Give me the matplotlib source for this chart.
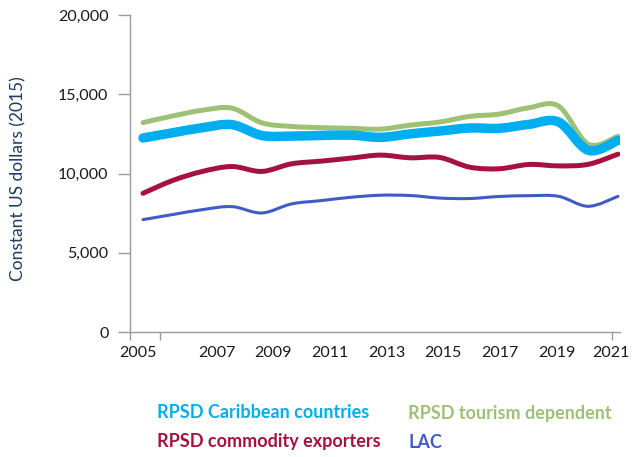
import numpy as np
import matplotlib
matplotlib.use("Agg")
import matplotlib.pyplot as plt
from matplotlib.path import Path
from matplotlib.patches import PathPatch

# GDP per capita, constant 2015 US dollars
years = np.arange(2005, 2022)
caribbean = [12240, 12570, 12890, 13080, 12400, 12360, 12400, 12420, 12280,
             12500, 12680, 12870, 12850, 13100, 13250, 11460, 12090]
commodity = [8750, 9560, 10130, 10440, 10130, 10610, 10780, 10970, 11160,
             10990, 11010, 10400, 10300, 10570, 10480, 10580, 11220]
tourism = [13210, 13630, 13990, 14120, 13200, 12970, 12890, 12850, 12800,
           13050, 13250, 13600, 13750, 14150, 14250, 11850, 12350]
lac = [7090, 7410, 7720, 7910, 7510, 8080, 8290, 8500, 8630,
       8610, 8450, 8420, 8550, 8600, 8560, 7930, 8560]

series_names = ["RPSD Caribbean countries", "RPSD commodity exporters",
                "RPSD tourism dependent", "LAC"]
colors = {"RPSD Caribbean countries": "#00aeef",
          "RPSD commodity exporters": "#a6123f",
          "RPSD tourism dependent": "#9fc176",
          "LAC": "#3f5bc8"}
widths = {"RPSD Caribbean countries": 6.8,
          "RPSD commodity exporters": 3.6,
          "RPSD tourism dependent": 3.6,
          "LAC": 2.2}

yticks = [0, 5000, 10000, 15000, 20000]
xlabels = ["2005", "2007", "2009", "2011", "2013", "2015", "2017", "2019", "2021"]


def smooth_path(x, y):
    # Catmull-Rom style cubic bezier through every data point
    x = np.asarray(x, float)
    y = np.asarray(y, float)
    px = np.concatenate([[x[0]], x, [x[-1]]])
    py = np.concatenate([[y[0]], y, [y[-1]]])
    verts = [(x[0], y[0])]
    codes = [Path.MOVETO]
    for i in range(len(x) - 1):
        j = i + 1
        c1 = (px[j] + (px[j + 1] - px[j - 1]) / 6, py[j] + (py[j + 1] - py[j - 1]) / 6)
        c2 = (px[j + 1] - (px[j + 2] - px[j]) / 6, py[j + 1] - (py[j + 2] - py[j]) / 6)
        verts += [c1, c2, (x[i + 1], y[i + 1])]
        codes += [Path.CURVE4] * 3
    return Path(verts, codes)


plt.rcParams["font.family"] = ["Lato", "DejaVu Sans"]

fig = plt.figure(figsize=(6.43, 4.57), dpi=100)
ax = fig.add_axes([130 / 643, (457 - 332) / 457, 490 / 643, 317 / 457])

# px per year taken from the plotted range
x0 = 2005 - 13 / 29.69
x1 = 2021 + 2 / 29.69
ax.set_xlim(x0, x1)
ax.set_ylim(0, 20000)

data = {"RPSD Caribbean countries": caribbean,
        "RPSD commodity exporters": commodity,
        "RPSD tourism dependent": tourism,
        "LAC": lac}
for name in ["RPSD tourism dependent", "RPSD commodity exporters", "LAC",
             "RPSD Caribbean countries"]:
    patch = PathPatch(smooth_path(years, data[name]), fill=False,
                      edgecolor=colors[name], lw=widths[name],
                      capstyle="round", joinstyle="round")
    ax.add_patch(patch)

for s in ["top", "right"]:
    ax.spines[s].set_visible(False)
for s in ["left", "bottom"]:
    ax.spines[s].set_color("#9a9a9a")
    ax.spines[s].set_linewidth(1.0)

ax.set_yticks(yticks)
ax.set_yticklabels([f"{v:,}" for v in yticks])
ax.tick_params(axis="y", length=8.5, width=1.0, color="#9a9a9a", pad=7,
               labelsize=11.5, labelcolor="#1a1a1a")

# tick marks (minor) and year labels (major) sit at slightly different spots
def px_to_year(p):
    return x0 + (p - 130) / 29.69

mark_px = [130, 160, 216.7, 273.3, 330, 386.7, 443.3, 500, 556.7, 611.7]
label_px = [138, 216.7, 273.3, 330, 386.7, 443.3, 500, 556.7, 611]
ax.set_xticks([px_to_year(p) for p in mark_px], minor=True)
ax.set_xticks([px_to_year(p) for p in label_px])
ax.set_xticklabels(xlabels)
ax.tick_params(axis="x", which="minor", length=6, width=1.0, color="#9a9a9a")
ax.tick_params(axis="x", which="major", length=0, pad=10,
               labelsize=11.5, labelcolor="#1a1a1a")

ax.set_ylabel("Constant US dollars (2015)", fontsize=12.5, color="#1f3a5f")
ax.yaxis.set_label_coords(-104 / 490, 0.483)

# coloured text legend, two columns
legend_pos = {"RPSD Caribbean countries": (157, 413),
              "RPSD commodity exporters": (157, 442),
              "RPSD tourism dependent": (408, 413),
              "LAC": (408, 442)}
for name in series_names:
    lx, ly = legend_pos[name]
    fig.text(lx / 643, 1 - ly / 457, name, color=colors[name], fontsize=13,
             fontweight="bold", ha="left", va="center")

fig.savefig("out.png", dpi=100)
